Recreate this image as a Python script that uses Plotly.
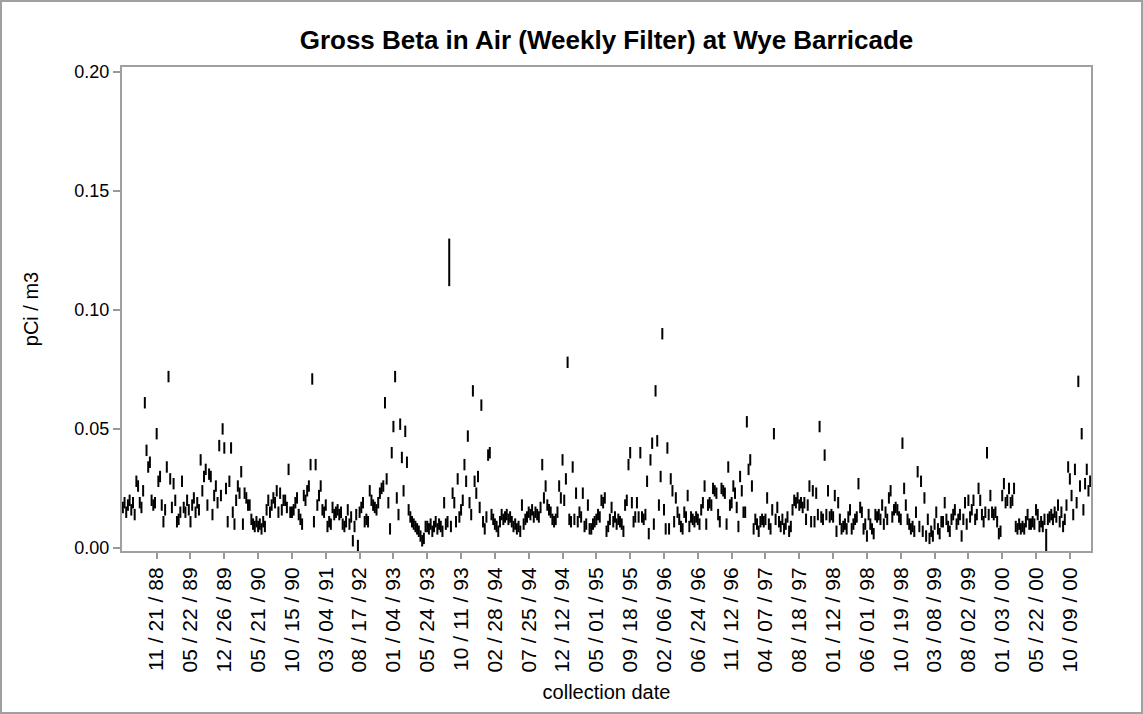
import plotly.graph_objects as go

# Weekly gross beta (pCi/m3), one value per collection, in collection order
beta_pci_m3 = [
    0.017, 0.019, 0.015, 0.018, 0.020, 0.016, 0.019, 0.014, 0.028, 0.026, 0.019, 0.017, 0.024, 0.061, 0.041, 0.034, 0.036, 0.020, 0.018, 0.019,
    0.048, 0.028, 0.030, 0.018, 0.011, 0.016, 0.034, 0.072, 0.029, 0.017, 0.027, 0.020, 0.011, 0.012, 0.015, 0.028, 0.017, 0.015, 0.020, 0.016,
    0.011, 0.018, 0.021, 0.015, 0.019, 0.016, 0.037, 0.024, 0.030, 0.033, 0.018, 0.031, 0.030, 0.014, 0.022, 0.026, 0.019, 0.043, 0.022, 0.050,
    0.042, 0.025, 0.011, 0.028, 0.042, 0.015, 0.010, 0.020, 0.026, 0.023, 0.032, 0.010, 0.023, 0.021, 0.018, 0.018, 0.012, 0.010, 0.009, 0.011,
    0.009, 0.010, 0.008, 0.011, 0.009, 0.016, 0.020, 0.015, 0.018, 0.021, 0.019, 0.024, 0.015, 0.023, 0.016, 0.020, 0.020, 0.017, 0.033, 0.015,
    0.015, 0.016, 0.019, 0.021, 0.014, 0.012, 0.010, 0.022, 0.020, 0.024, 0.026, 0.035, 0.071, 0.011, 0.035, 0.018, 0.022, 0.026, 0.016, 0.015,
    0.018, 0.009, 0.011, 0.010, 0.017, 0.014, 0.015, 0.016, 0.014, 0.015, 0.010, 0.009, 0.011, 0.016, 0.010, 0.013, 0.003, 0.009, 0.014, 0.001,
    0.015, 0.017, 0.019, 0.011, 0.012, 0.011, 0.024, 0.020, 0.018, 0.017, 0.016, 0.019, 0.023, 0.025, 0.026, 0.061, 0.029, 0.019, 0.008, 0.040,
    0.051, 0.072, 0.021, 0.014, 0.052, 0.038, 0.024, 0.049, 0.036, 0.016, 0.013, 0.011, 0.010, 0.009, 0.008, 0.007, 0.005, 0.003, 0.004, 0.009,
    0.009, 0.008, 0.010, 0.007, 0.009, 0.011, 0.008, 0.010, 0.009, 0.007, 0.019, 0.010, 0.011, 0.120, 0.009, 0.023, 0.019, 0.011, 0.029, 0.013,
    0.016, 0.020, 0.035, 0.028, 0.047, 0.019, 0.014, 0.066, 0.028, 0.023, 0.030, 0.017, 0.060, 0.011, 0.008, 0.013, 0.039, 0.040, 0.014, 0.012,
    0.010, 0.009, 0.007, 0.011, 0.014, 0.012, 0.013, 0.014, 0.012, 0.013, 0.011, 0.009, 0.010, 0.008, 0.009, 0.007, 0.018, 0.010, 0.012, 0.013,
    0.015, 0.014, 0.016, 0.013, 0.015, 0.014, 0.013, 0.017, 0.035, 0.021, 0.026, 0.018, 0.016, 0.015, 0.012, 0.011, 0.012, 0.015, 0.026, 0.021,
    0.037, 0.020, 0.029, 0.078, 0.012, 0.011, 0.034, 0.012, 0.023, 0.011, 0.015, 0.013, 0.023, 0.009, 0.010, 0.018, 0.008, 0.008, 0.010, 0.011,
    0.012, 0.014, 0.013, 0.020, 0.019, 0.021, 0.007, 0.009, 0.012, 0.017, 0.011, 0.013, 0.010, 0.012, 0.011, 0.010, 0.007, 0.018, 0.020, 0.035,
    0.040, 0.019, 0.011, 0.013, 0.019, 0.013, 0.040, 0.013, 0.012, 0.014, 0.028, 0.006, 0.037, 0.044, 0.010, 0.066, 0.045, 0.018, 0.030, 0.090,
    0.016, 0.008, 0.042, 0.008, 0.029, 0.024, 0.011, 0.021, 0.015, 0.012, 0.009, 0.008, 0.015, 0.013, 0.022, 0.009, 0.013, 0.012, 0.011, 0.013,
    0.012, 0.010, 0.016, 0.019, 0.026, 0.010, 0.018, 0.019, 0.018, 0.025, 0.024, 0.023, 0.014, 0.011, 0.025, 0.024, 0.023, 0.010, 0.034, 0.018,
    0.019, 0.026, 0.023, 0.017, 0.009, 0.030, 0.024, 0.015, 0.015, 0.053, 0.033, 0.037, 0.026, 0.008, 0.012, 0.010, 0.007, 0.011, 0.012, 0.011,
    0.012, 0.021, 0.010, 0.008, 0.016, 0.048, 0.012, 0.017, 0.011, 0.009, 0.012, 0.008, 0.010, 0.013, 0.007, 0.009, 0.016, 0.020, 0.019, 0.021,
    0.018, 0.019, 0.017, 0.019, 0.012, 0.018, 0.026, 0.011, 0.024, 0.011, 0.023, 0.014, 0.051, 0.013, 0.012, 0.039, 0.014, 0.024, 0.013, 0.014,
    0.013, 0.022, 0.007, 0.019, 0.012, 0.008, 0.009, 0.010, 0.008, 0.013, 0.016, 0.008, 0.010, 0.012, 0.013, 0.027, 0.017, 0.015, 0.008, 0.010,
    0.005, 0.014, 0.010, 0.008, 0.006, 0.014, 0.013, 0.014, 0.012, 0.018, 0.010, 0.015, 0.012, 0.021, 0.024, 0.013, 0.016, 0.017, 0.016, 0.013,
    0.012, 0.044, 0.025, 0.018, 0.012, 0.010, 0.008, 0.009, 0.007, 0.015, 0.032, 0.009, 0.028, 0.007, 0.021, 0.005, 0.012, 0.004, 0.007, 0.005,
    0.010, 0.015, 0.008, 0.006, 0.011, 0.011, 0.019, 0.012, 0.009, 0.007, 0.012, 0.014, 0.016, 0.010, 0.012, 0.014, 0.005, 0.012, 0.019, 0.010,
    0.020, 0.013, 0.016, 0.020, 0.012, 0.014, 0.025, 0.020, 0.014, 0.011, 0.015, 0.040, 0.014, 0.022, 0.015, 0.014, 0.015, 0.011, 0.006, 0.007,
    0.022, 0.027, 0.019, 0.020, 0.025, 0.019, 0.020, 0.025, 0.009, 0.008, 0.010, 0.008, 0.009, 0.008, 0.011, 0.014, 0.010, 0.010, 0.011, 0.010,
    0.016, 0.014, 0.009, 0.011, 0.009, 0.012, 0.002, 0.012, 0.013, 0.014, 0.012, 0.015, 0.013, 0.018, 0.011, 0.015, 0.009, 0.012, 0.018, 0.034,
    0.029, 0.022, 0.014, 0.033, 0.019, 0.070, 0.026, 0.048, 0.016, 0.027, 0.033, 0.024, 0.028,
]

# Counting uncertainty (half-length of each vertical bar), with a few larger ones
unc_default = 0.0024
unc_special = {193: 0.010, 546: 0.006}

# Collection-date tick labels (every 20th collection)
tick_labels = [
    "11 / 21 / 88", "05 / 22 / 89", "12 / 26 / 89", "05 / 21 / 90", "10 / 15 / 90",
    "03 / 04 / 91", "08 / 17 / 92", "01 / 04 / 93", "05 / 24 / 93", "10 / 11 / 93",
    "02 / 28 / 94", "07 / 25 / 94", "12 / 12 / 94", "05 / 01 / 95", "09 / 18 / 95",
    "02 / 06 / 96", "06 / 24 / 96", "11 / 12 / 96", "04 / 07 / 97", "08 / 18 / 97",
    "01 / 12 / 98", "06 / 01 / 98", "10 / 19 / 98", "03 / 08 / 99", "08 / 02 / 99",
    "01 / 03 / 00", "05 / 22 / 00", "10 / 09 / 00",
]
first_tick = 20
tick_step = 20

n = len(beta_pci_m3)
xs, ys = [], []
for i, v in enumerate(beta_pci_m3):
    u = unc_special.get(i, unc_default)
    xs += [i, i, None]
    ys += [v - u, v + u, None]

fig = go.Figure()
fig.add_trace(go.Scatter(x=xs, y=ys, mode="lines",
                         line=dict(color="black", width=2),
                         hoverinfo="skip", showlegend=False))

font_family = "Liberation Sans, Arial, sans-serif"
tickvals = [first_tick + k * tick_step for k in range(len(tick_labels))]

fig.update_layout(
    width=1143, height=714,
    paper_bgcolor="white", plot_bgcolor="white",
    margin=dict(l=122, r=52, t=67, b=163),
    font=dict(family=font_family, size=19, color="black"),
    title=dict(text="<b>Gross Beta in Air (Weekly Filter) at Wye Barricade</b>",
               x=0.5, xref="paper", y=1 - 40 / 714, yref="container",
               xanchor="center", yanchor="middle",
               font=dict(size=26, family=font_family, color="black")),
    xaxis=dict(range=[-0.5, n - 0.5], tickmode="array", tickvals=tickvals,
               ticktext=tick_labels, tickangle=-90, ticks="outside", ticklen=6,
               tickcolor="#999999", tickwidth=2, showgrid=False, zeroline=False,
               showline=True, linecolor="#a0a0a0", linewidth=2, mirror=True,
               tickfont=dict(size=21),
               title=dict(text="collection date", standoff=14, font=dict(size=20))),
    yaxis=dict(range=[-0.0013, 0.2021], tickmode="array",
               tickvals=[0, 0.05, 0.10, 0.15, 0.20],
               ticktext=["0.00", "0.05", "0.10", "0.15", "0.20"],
               ticks="outside", ticklen=7, tickcolor="#999999", tickwidth=2,
               showgrid=False, zeroline=False, showline=True, linecolor="#a0a0a0",
               linewidth=2, mirror=True, tickfont=dict(size=18),
               title=dict(text="pCi / m3", standoff=30, font=dict(size=20))),
)

# Outer gray border around the whole picture
fig.add_shape(type="rect", xref="paper", yref="paper",
              x0=(1 - 122) / 969, x1=(1142 - 122) / 969,
              y0=(551 - 713) / 484, y1=(551 - 1) / 484,
              line=dict(color="#a0a0a0", width=2), fillcolor="rgba(0,0,0,0)",
              layer="below")

fig.write_html("out.html", config={"displayModeBar": False},
               post_script="document.body.style.margin='0';document.body.style.overflow='hidden';")
